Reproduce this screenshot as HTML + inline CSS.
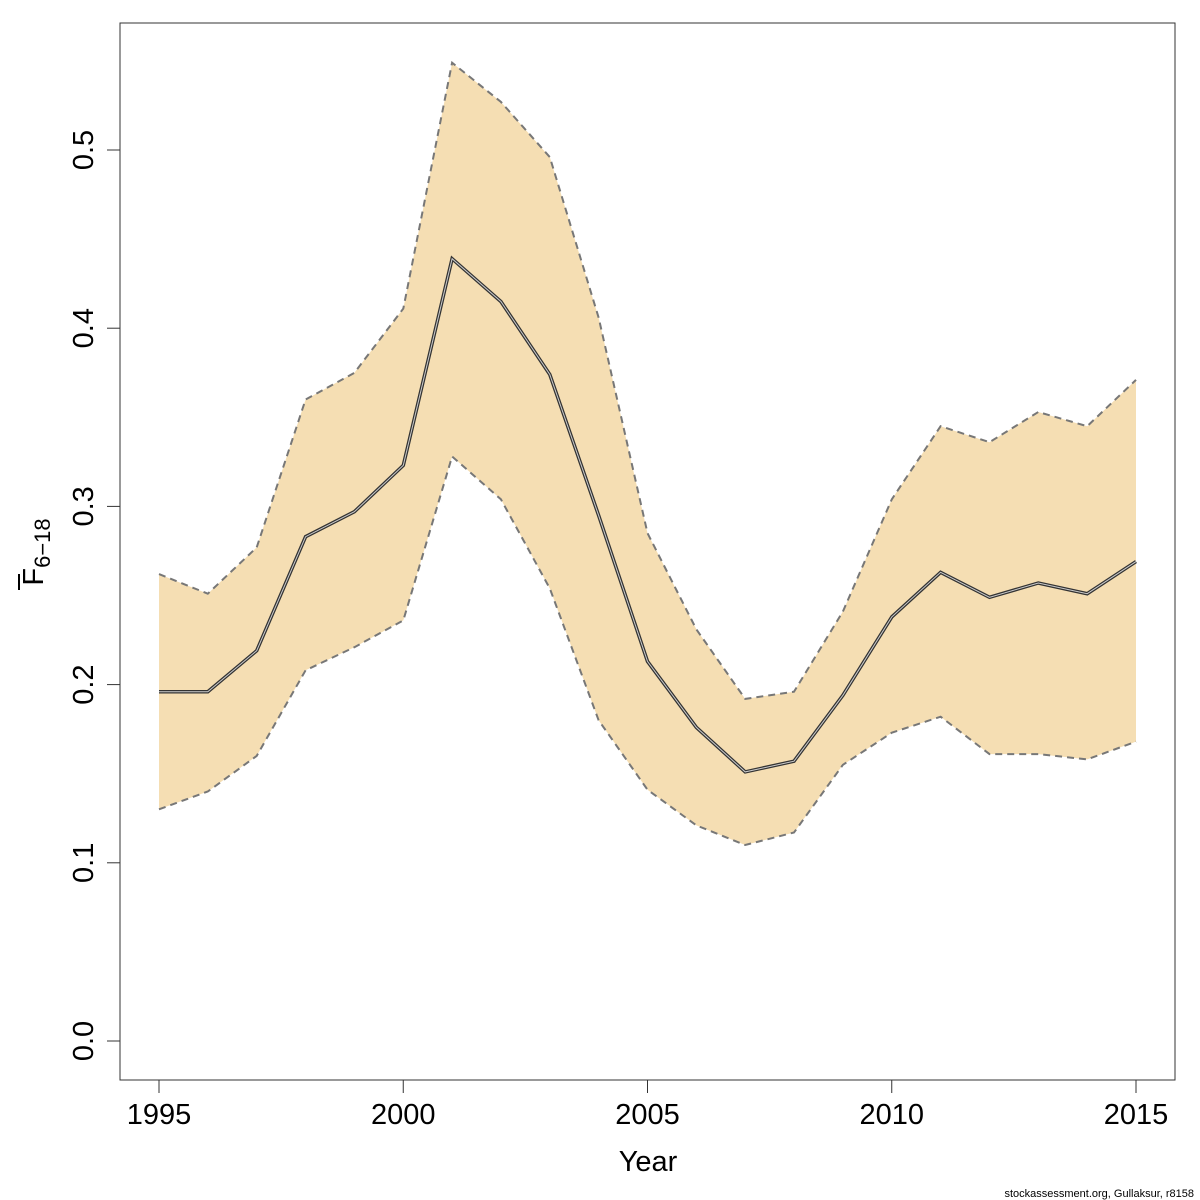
<!DOCTYPE html>
<html><head><meta charset="utf-8"><style>
body{margin:0;background:#fff}
svg{display:block;font-family:"Liberation Sans","DejaVu Sans",sans-serif}
</style></head><body>
<svg id="chart" width="1200" height="1200" viewBox="0 0 1200 1200" xmlns="http://www.w3.org/2000/svg">
<rect x="120" y="23" width="1055" height="1057" fill="none" stroke="#333" stroke-width="1"/>
<g id="series"></g>
<g id="axes"></g>
<text x="648" y="1171" font-size="29" text-anchor="middle" fill="#000">Year</text>
<g transform="translate(43,552) rotate(-90)">
<text x="0" y="0" font-size="29" text-anchor="middle" fill="#000">F<tspan font-size="22" dy="7">6−18</tspan></text>
<line x1="-38" y1="-24" x2="-22" y2="-24" stroke="#000" stroke-width="2"/>
</g>
<text x="1194" y="1197" font-size="11" text-anchor="end" fill="#000">stockassessment.org, Gullaksur, r8158</text>
</svg>
<script>
const years=[1995,1996,1997,1998,1999,2000,2001,2002,2003,2004,2005,2006,2007,2008,2009,2010,2011,2012,2013,2014,2015];
const meanF=[0.196,0.196,0.219,0.283,0.297,0.323,0.439,0.415,0.374,0.295,0.213,0.176,0.151,0.157,0.194,0.238,0.263,0.249,0.257,0.251,0.269];
const upperF=[0.262,0.251,0.277,0.360,0.375,0.411,0.549,0.527,0.496,0.406,0.285,0.231,0.192,0.196,0.241,0.304,0.345,0.336,0.353,0.345,0.371];
const lowerF=[0.130,0.140,0.160,0.208,0.221,0.236,0.328,0.304,0.254,0.180,0.141,0.121,0.110,0.117,0.155,0.173,0.182,0.161,0.161,0.158,0.168];
const xTicks=[1995,2000,2005,2010,2015];
const yTicks=[0.0,0.1,0.2,0.3,0.4,0.5];
const yTickLabels=["0.0","0.1","0.2","0.3","0.4","0.5"];

const NS="http://www.w3.org/2000/svg";
const xs=v=>159+(v-1995)*(1136-159)/20;
const ys=v=>1041-v*(1041-150)/0.5;
const series=document.getElementById('series');
const axes=document.getElementById('axes');
function mk(tag,attrs,parent){const e=document.createElementNS(NS,tag);for(const k in attrs)e.setAttribute(k,attrs[k]);parent.appendChild(e);return e;}
const pts=(arr)=>arr.map((v,i)=>xs(years[i]).toFixed(1)+","+ys(v).toFixed(1));

const band=mk('polygon',{points:pts(upperF).concat(pts(lowerF).reverse()).join(' '),fill:'#f5deb3',stroke:'none'},series);


const up=mk('polyline',{points:pts(upperF).join(' '),fill:'none',stroke:'#777','stroke-width':2,'stroke-dasharray':'7,5'},series);


const lo=mk('polyline',{points:pts(lowerF).join(' '),fill:'none',stroke:'#777','stroke-width':2,'stroke-dasharray':'7,5'},series);


const m1=mk('polyline',{points:pts(meanF).join(' '),fill:'none',stroke:'#333','stroke-width':3.5},series);


const m2=mk('polyline',{points:pts(meanF).join(' '),fill:'none',stroke:'#ccc','stroke-width':1},series);



xTicks.forEach(t=>{
  const l=mk('line',{x1:xs(t),x2:xs(t),y1:1080,y2:1093,stroke:'#333'},axes);
  
  
  const tx=mk('text',{x:xs(t),y:1124,'font-size':29,'text-anchor':'middle',fill:'#000'},axes);
  tx.textContent=t;
  
  
});
yTicks.forEach((t,i)=>{
  const l=mk('line',{x1:107,x2:120,y1:ys(t),y2:ys(t),stroke:'#333'},axes);
  
  
  const tx=mk('text',{x:0,y:0,'font-size':29,'text-anchor':'middle',fill:'#000',transform:`translate(93,${ys(t)}) rotate(-90)`},axes);
  tx.textContent=yTickLabels[i];
  
  
});
</script>
</body></html>
